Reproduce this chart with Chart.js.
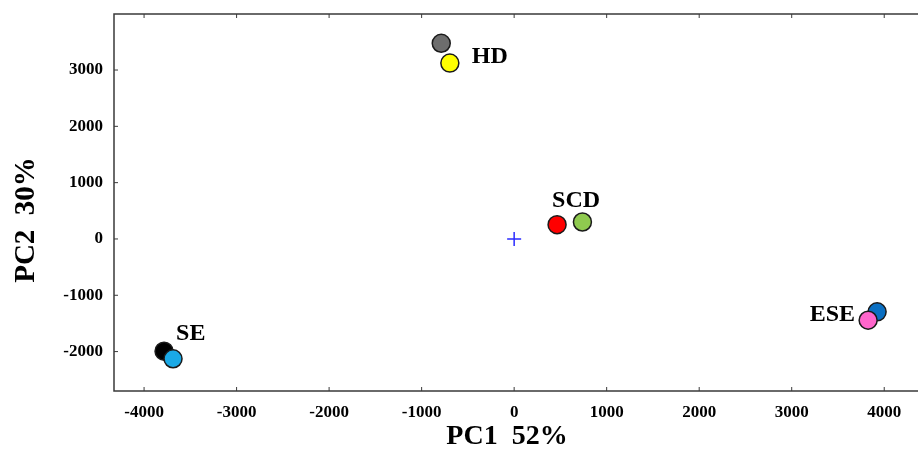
<!DOCTYPE html>
<html>
<head>
<meta charset="utf-8">
<script src="https://cdn.jsdelivr.net/npm/chart.js@4/dist/chart.umd.min.js"></script>
<style>
  body { margin: 0; background: #fff; }
  canvas { display: block; }
</style>
</head>
<body>
<canvas id="pca" width="918" height="452"></canvas>
<script>
// PCA scores
const samples = ['HD-1', 'HD-2', 'SCD-1', 'SCD-2', 'SE-1', 'SE-2', 'ESE-1', 'ESE-2'];
const pc1 = [-788, -695, 464, 738, -3784, -3687, 3923, 3826];
const pc2 = [3475, 3124, 254, 301, -1993, -2128, -1294, -1443];
const groupNames = ['HD', 'SCD', 'SE', 'ESE'];
const groupAnchor = [1, 2, 4, 7];   // which sample each group name sits next to
const xTicks = [-4000, -3000, -2000, -1000, 0, 1000, 2000, 3000, 4000];
const yTicks = [-2000, -1000, 0, 1000, 2000, 3000];
const xTitle = 'PC1  52%';
const yTitle = 'PC2  30%';

const fills = ['#6d6d6d', '#ffff00', '#ff0000', '#8fca4f', '#000000', '#1aa9e6', '#0a6fc2', '#ff66cc'];
const nameOffsets = [[22, 0, 'left'], [-5, -18, 'left'], [12, -11, 'left'], [-13, 1, 'right']];

const serif = '"Liberation Serif", "Times New Roman", serif';
const frameColor = '#3a3a3a';

const framePlugin = {
    id: 'frame',
    afterDraw(chart) {
        const ctx = chart.ctx;
        const a = chart.chartArea;
        const xs = chart.scales.x, ys = chart.scales.y;
        ctx.save();
        ctx.strokeStyle = frameColor;
        ctx.lineWidth = 1.5;
        ctx.beginPath();
        ctx.moveTo(a.right + 2, a.top); ctx.lineTo(a.left, a.top);
        ctx.lineTo(a.left, a.bottom); ctx.lineTo(a.right + 2, a.bottom);
        ctx.stroke();
        ctx.lineWidth = 1;
        ctx.beginPath();
        xTicks.forEach(v => {
            const px = xs.getPixelForValue(v);
            ctx.moveTo(px, a.bottom); ctx.lineTo(px, a.bottom - 4);
            ctx.moveTo(px, a.top); ctx.lineTo(px, a.top + 4);
        });
        yTicks.forEach(v => {
            const py = ys.getPixelForValue(v);
            ctx.moveTo(a.left, py); ctx.lineTo(a.left + 4, py);
        });
        ctx.stroke();

        // axis titles, both a little off the plot centre in the original
        ctx.fillStyle = '#000';
        ctx.font = 'bold 28px ' + serif;
        ctx.textAlign = 'center';
        ctx.textBaseline = 'middle';
        ctx.fillText(xTitle, 507, 437);
        ctx.save();
        ctx.font = 'bold 29px ' + serif;
        ctx.translate(27, 220);
        ctx.rotate(-Math.PI / 2);
        ctx.fillText(yTitle, 0, 0);
        ctx.restore();

        // group names next to their points
        ctx.font = 'bold 24px ' + serif;
        ctx.textBaseline = 'alphabetic';
        groupNames.forEach((name, i) => {
            const k = groupAnchor[i];
            const off = nameOffsets[i];
            ctx.textAlign = off[2];
            ctx.fillText(name, xs.getPixelForValue(pc1[k]) + off[0], ys.getPixelForValue(pc2[k]) + off[1]);
        });
        ctx.restore();
    }
};

const tickFont = { family: serif, size: 17, weight: 'bold' };

new Chart(document.getElementById('pca'), {
    type: 'scatter',
    data: {
        datasets: [
            {
                label: 'samples',
                data: samples.map((s, i) => ({ x: pc1[i], y: pc2[i] })),
                pointRadius: 9,
                pointHoverRadius: 9,
                pointBackgroundColor: fills,
                pointBorderColor: '#1a1a1a',
                pointBorderWidth: 1.5
            },
            {
                label: 'origin',
                data: [{ x: 0, y: 0 }],
                pointStyle: 'cross',
                pointRadius: 7,
                pointBorderColor: '#2b2bff',
                pointBorderWidth: 1.5
            }
        ]
    },
    options: {
        responsive: false,
        animation: false,
        layout: { autoPadding: false, padding: { top: 14, left: 0, right: 0, bottom: 0 } },
        plugins: { legend: { display: false }, tooltip: { enabled: false } },
        scales: {
            x: {
                type: 'linear',
                min: -4325,
                max: 4365,
                afterFit: s => { s.height = 61; s.paddingLeft = 0; s.paddingRight = 0; },
                afterBuildTicks: s => { s.ticks = xTicks.map(v => ({ value: v })); },
                grid: { display: false, drawTicks: false },
                border: { display: false },
                ticks: { color: '#000', font: tickFont, padding: 11, maxRotation: 0, autoSkip: false,
                         callback: v => String(v) }
            },
            y: {
                type: 'linear',
                min: -2700,
                max: 3995,
                afterFit: s => { s.width = 114; s.paddingTop = 0; s.paddingBottom = 0; },
                afterBuildTicks: s => { s.ticks = yTicks.map(v => ({ value: v })); },
                grid: { display: false, drawTicks: false },
                border: { display: false },
                ticks: { color: '#000', font: tickFont, padding: 11, callback: v => String(v) }
            }
        }
    },
    plugins: [framePlugin]
});
</script>
</body>
</html>
